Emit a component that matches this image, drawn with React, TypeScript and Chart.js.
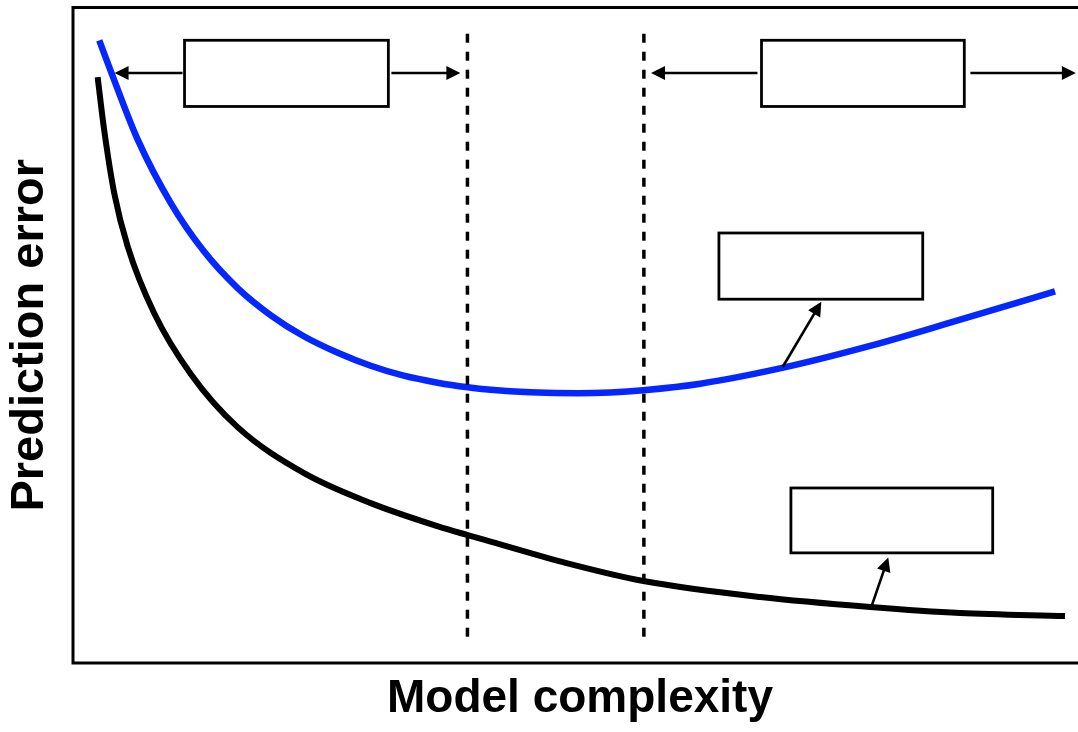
import React, { useEffect, useRef } from 'react';
import { Chart, registerables } from 'chart.js';

Chart.register(...registerables);

// Test (validation) error curve – blue
const blueX = [2.59, 4.07, 6.37, 9.66, 12.91, 16.26, 19.51, 22.76, 26.11, 29.36, 32.61, 35.96, 38.92, 41.18, 45.12, 49.85, 53.0, 56.26, 61.87, 70.05, 78.33, 86.5, 96.85];
const blueY = [94.97, 88.87, 79.88, 70.12, 62.8, 57.16, 53.05, 49.85, 47.33, 45.35, 43.83, 42.76, 42.07, 41.69, 41.31, 41.16, 41.28, 41.62, 42.61, 45.05, 48.25, 51.91, 56.71];

// Training error curve – black
const blackX = [2.43, 3.08, 4.07, 5.39, 8.01, 11.63, 16.23, 22.79, 29.36, 35.93, 38.92, 41.18, 48.67, 56.26, 67.78, 78.62, 87.49, 97.83];
const blackY = [89.38, 81.25, 71.65, 63.57, 53.35, 44.05, 35.98, 28.96, 24.39, 20.88, 19.51, 18.52, 15.24, 12.5, 10.06, 8.54, 7.62, 7.16];

// Dashed region boundaries
const boundaryX = [38.9, 56.3];
const boundaryTop = [96.0, 96.0];
const boundaryBottom = [3.8, 3.8];

// Empty label boxes (data units)
const boxLeft = [11.0, 67.9, 63.7, 70.8];
const boxRight = [31.1, 87.9, 83.8, 90.7];
const boxTop = [95.0, 95.0, 65.6, 26.7];
const boxBottom = [84.9, 84.9, 55.5, 16.8];

// Arrows (data units): from -> to (head at "to")
const arrowFromX = [10.8, 31.4, 67.5, 88.5, 70.0, 78.7];
const arrowFromY = [90.0, 90.0, 90.0, 90.0, 45.2, 8.4];
const arrowToX = [4.1, 38.2, 57.0, 98.9, 73.8, 80.4];
const arrowToY = [90.0, 90.0, 90.0, 90.0, 55.1, 16.1];

const xTitle = 'Model complexity';
const yTitle = 'Prediction error';

const FONT = '"Liberation Sans", Arial, Helvetica, sans-serif';

function drawArrow(ctx: CanvasRenderingContext2D, x0: number, y0: number, x1: number, y1: number) {
  const head = 14;
  const half = 7;
  const dx = x1 - x0;
  const dy = y1 - y0;
  const len = Math.hypot(dx, dy);
  const ux = dx / len;
  const uy = dy / len;
  const bx = x1 - ux * head;
  const by = y1 - uy * head;
  ctx.beginPath();
  ctx.moveTo(x0, y0);
  ctx.lineTo(bx + ux * 2, by + uy * 2);
  ctx.stroke();
  ctx.beginPath();
  ctx.moveTo(x1, y1);
  ctx.lineTo(bx - uy * half, by + ux * half);
  ctx.lineTo(bx + uy * half, by - ux * half);
  ctx.closePath();
  ctx.fill();
}

const decorPlugin = {
  id: 'decor',
  afterDatasetsDraw(chart: any) {
    const { ctx, chartArea, scales } = chart;
    const xs = scales.x;
    const ys = scales.y;
    ctx.save();
    ctx.lineWidth = 2.8;
    ctx.strokeStyle = '#000';
    ctx.fillStyle = '#fff';
    for (let i = 0; i < boxLeft.length; i++) {
      const l = xs.getPixelForValue(boxLeft[i]);
      const r = xs.getPixelForValue(boxRight[i]);
      const t = ys.getPixelForValue(boxTop[i]);
      const b = ys.getPixelForValue(boxBottom[i]);
      ctx.fillRect(l, t, r - l, b - t);
      ctx.strokeRect(l, t, r - l, b - t);
    }
    ctx.fillStyle = '#000';
    ctx.lineWidth = 2.6;
    for (let i = 0; i < arrowFromX.length; i++) {
      drawArrow(
        ctx,
        xs.getPixelForValue(arrowFromX[i]),
        ys.getPixelForValue(arrowFromY[i]),
        xs.getPixelForValue(arrowToX[i]),
        ys.getPixelForValue(arrowToY[i])
      );
    }
    ctx.lineWidth = 3;
    ctx.strokeRect(chartArea.left, chartArea.top, chartArea.right - chartArea.left, chartArea.bottom - chartArea.top);
    ctx.restore();
  },
};

export default function App() {
  const ref = useRef<HTMLCanvasElement | null>(null);

  useEffect(() => {
    if (!ref.current) return;
    const boundarySets = boundaryX.map((bx, i) => ({
      data: [
        { x: bx, y: boundaryTop[i] },
        { x: bx, y: boundaryBottom[i] },
      ],
      borderColor: '#000',
      borderWidth: 3.5,
      borderDash: [9, 9],
      pointRadius: 0,
      tension: 0,
      order: 0,
    }));
    const chart = new Chart(ref.current, {
      type: 'line',
      data: {
        datasets: [
          ...boundarySets,
          {
            data: blueX.map((x, i) => ({ x, y: blueY[i] })),
            borderColor: '#0527ff',
            borderWidth: 6.5,
            pointRadius: 0,
            cubicInterpolationMode: 'monotone',
            order: 2,
          },
          {
            data: blackX.map((x, i) => ({ x, y: blackY[i] })),
            borderColor: '#000',
            borderWidth: 6,
            pointRadius: 0,
            cubicInterpolationMode: 'monotone',
            order: 3,
          },
        ] as any,
      },
      options: {
        responsive: false,
        animation: false,
        layout: { padding: { left: 0, right: 3, top: 7.5, bottom: 0 } },
        plugins: {
          legend: { display: false },
          tooltip: { enabled: false },
        },
        scales: {
          x: {
            type: 'linear',
            min: 0,
            max: 100,
            ticks: { display: false },
            grid: { display: false },
            border: { display: false },
            title: {
              display: true,
              text: xTitle,
              color: '#000',
              font: { family: FONT, size: 46, weight: 'bold' },
              padding: { top: 0, bottom: 5 },
            },
            afterFit: (s: any) => {
              s.height = 69;
            },
          },
          y: {
            type: 'linear',
            min: 0,
            max: 100,
            ticks: { display: false },
            grid: { display: false },
            border: { display: false },
            title: {
              display: true,
              text: yTitle,
              color: '#000',
              font: { family: FONT, size: 47, weight: 'bold' },
              padding: { top: 2, bottom: 0 },
            },
            afterFit: (s: any) => {
              s.width = 73;
            },
          },
        },
      } as any,
      plugins: [decorPlugin],
    });
    return () => chart.destroy();
  }, []);

  return (
    <div
      style={{
        position: 'absolute',
        left: 0,
        top: 0,
        width: 1078,
        height: 732,
        overflow: 'hidden',
        background: '#fff',
      }}
    >
      <canvas ref={ref} width={1090} height={732} style={{ display: 'block', width: 1090, height: 732 }} />
    </div>
  );
}
